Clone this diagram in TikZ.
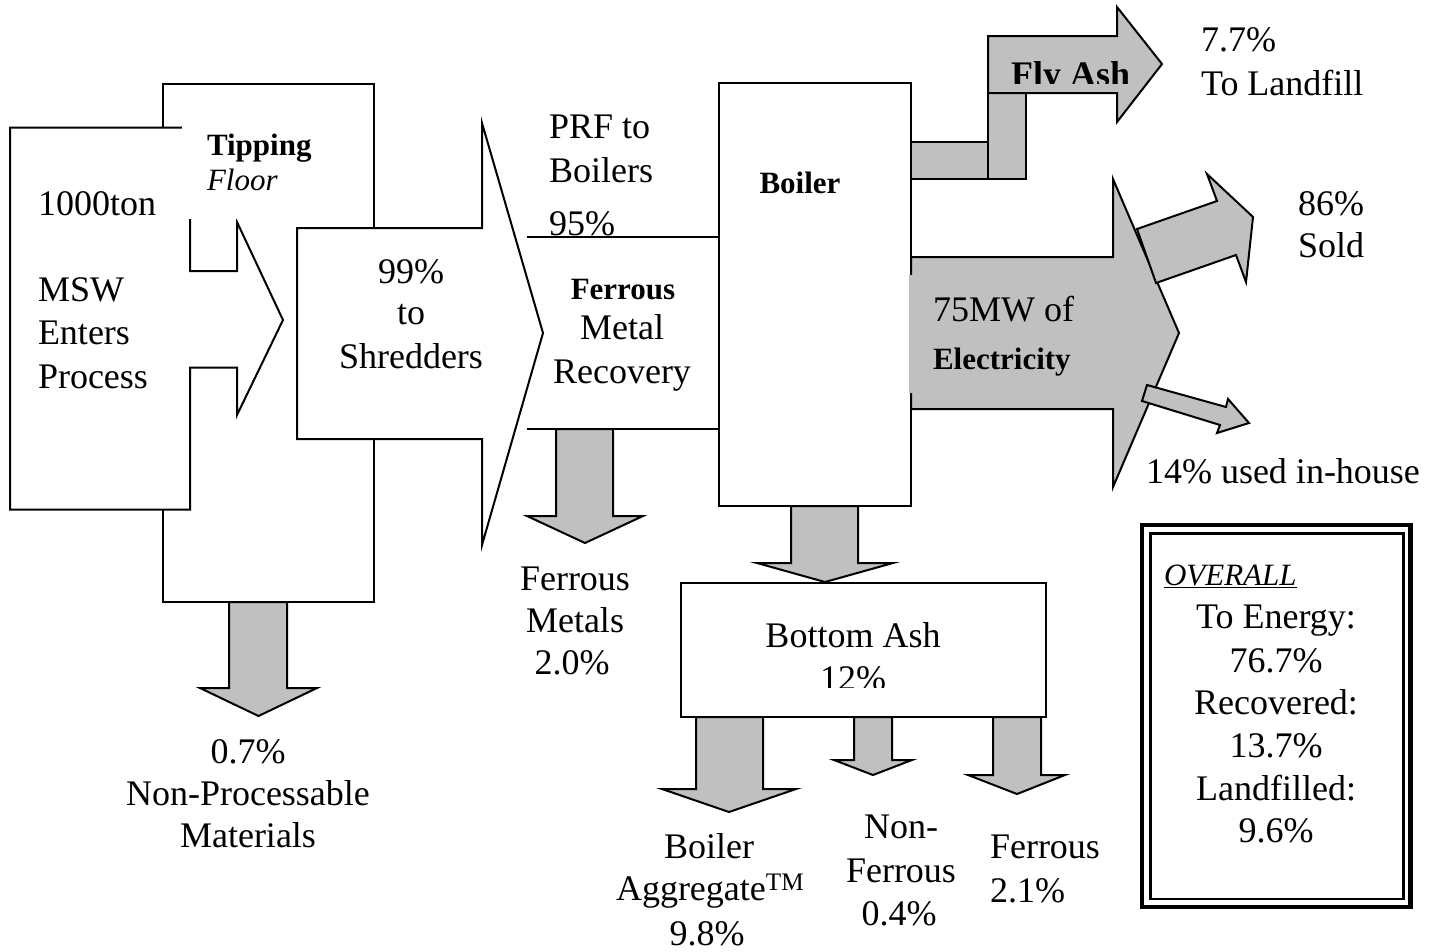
\documentclass[tikz,border=0pt]{standalone}
\usepackage{fontspec}
\setmainfont{Liberation Serif}
\definecolor{ash}{HTML}{C0C0C0}
\begin{document}
\begin{tikzpicture}[x=1pt,y=-1pt,line width=2pt,line join=miter,
  wbox/.style={draw=black,fill=white},
  gbox/.style={draw=black,fill=ash},
  txt/.style={inner sep=0pt,font=\fontsize{36}{43}\selectfont},
  btxt/.style={inner sep=0pt,font=\fontsize{31}{37}\selectfont\bfseries},
  itxt/.style={inner sep=0pt,font=\fontsize{31}{37}\selectfont\itshape},
  bw/.style={anchor=base west},
  bc/.style={anchor=base}]
\useasboundingbox (0,0) rectangle (1447,951);

% ---- Tipping floor ----
\draw[wbox] (163,83.5) rectangle (374,602);
\draw[wbox] (10,127.5) -- (190,127.5) -- (190,271) -- (237,271) -- (237,222) -- (283,320)
  -- (237,415) -- (237,367.5) -- (190,367.5) -- (190,509.5) -- (10,509.5) -- cycle;
\fill[white] (182,100) rectangle (330,219);
\node[btxt,bw] (tip) at (206,155) {Tipping};
\node[itxt,bw] (floor) at (206,190) {Floor};
\node[txt,bw] (ton) at (37,215) {1000ton};
\node[txt,bw] (msw) at (37,301.5) {MSW};
\node[txt,bw] (ent) at (37,344) {Enters};
\node[txt,bw] (proc) at (37,388) {Process};

% non-processable
\draw[gbox] (229,602) -- (287,602) -- (287,688) -- (317,688) -- (258.5,716) -- (200,688) -- (229,688) -- cycle;
\node[txt,bc] (np1) at (248,763) {0.7\%};
\node[txt,bc] (np2) at (248,805) {Non-Processable};
\node[txt,bc] (np3) at (248,847) {Materials};

% ---- Shredders ----
\draw[wbox] (297,228) -- (482,228) -- (482,123) -- (543,333) -- (482,545) -- (482,439) -- (297,439) -- cycle;
\node[txt,bc] (s1) at (411,283) {99\%};
\node[txt,bc] (s2) at (411,324) {to};
\node[txt,bc] (s3) at (411,368) {Shredders};

% ---- Ferrous metal recovery ----
\draw (527,237) -- (719,237);
\draw (527,429) -- (719,429);
\node[txt,bw] (prf1) at (548,138) {PRF to};
\node[txt,bw] (prf2) at (548,182) {Boilers};
\node[txt,bw] (prf3) at (548,235) {95\%};
\node[btxt,bc] (fe1) at (623,299) {Ferrous};
\node[txt,bc] (fe2) at (622,339) {Metal};
\node[txt,bc] (fe3) at (622,383) {Recovery};
\draw[gbox] (556,429) -- (613,429) -- (613,516) -- (643,516) -- (585,543) -- (527,516) -- (556,516) -- cycle;
\node[txt,bc] (fm1) at (575,590) {Ferrous};
\node[txt,bc] (fm2) at (575,632) {Metals};
\node[txt,bc] (fm3) at (572,674) {2.0\%};

% ---- Boiler ----
\draw[wbox] (719,83) rectangle (911,506);
\node[btxt,bc] (boil) at (800,193) {Boiler};

% fly ash
\draw[gbox] (911,142) rectangle (988,179);
\draw[gbox] (988,93) rectangle (1026,179);
\draw[gbox] (988,36) -- (1117,36) -- (1117,7) -- (1162,64) -- (1117,122) -- (1117,93) -- (988,93) -- cycle;
\begin{scope}
\clip (990,30) rectangle (1150,83);
\node[inner sep=0pt,font=\fontsize{36}{43}\selectfont\bfseries,bw] (fly) at (1010,86) {Fly Ash};
\end{scope}
\node[txt,bw] (lf1) at (1200,51) {7.7\%};
\node[txt,bw] (lf2) at (1200,95) {To Landfill};

% electricity
\draw[gbox] (911,257) -- (1113,257) -- (1113,179) -- (1179,333) -- (1113,487) -- (1113,409) -- (911,409) -- cycle;
\fill[ash] (909,275) rectangle (1090,393);
\node[txt,bw] (mw) at (932,321) {75MW of};
\node[btxt,bw] (elec) at (932,369) {Electricity};
\draw[gbox] (1137,229) -- (1217,201) -- (1207,174) -- (1253,217) -- (1246,282) -- (1236,255) -- (1156,283) -- cycle;
\draw[gbox] (1147,385) -- (1226,407) -- (1228,399) -- (1249,423) -- (1217,433) -- (1220,425) -- (1142,401) -- cycle;
\node[txt,bw] (sold1) at (1297,215) {86\%};
\node[txt,bw] (sold2) at (1297,257) {Sold};
\node[txt,bw] (inh) at (1145,483) {14\% used in-house};

% ---- Bottom ash ----
\draw[gbox] (791,506) -- (858,506) -- (858,563) -- (893,563) -- (825,582) -- (757,563) -- (791,563) -- cycle;
\draw[wbox] (681,583) rectangle (1046,717);
\node[txt,bc] (ba1) at (853,647) {Bottom Ash};
\begin{scope}
\clip (683,585) rectangle (1044,687);
\node[txt,bc] (ba2) at (853,690) {12\%};
\end{scope}
\draw[gbox] (696,717) -- (763,717) -- (763,789) -- (796,789) -- (729,812) -- (662,789) -- (696,789) -- cycle;
\draw[gbox] (854,717) -- (892,717) -- (892,760) -- (912,760) -- (873,775) -- (834,760) -- (854,760) -- cycle;
\draw[gbox] (993,717) -- (1041,717) -- (1041,775) -- (1065,775) -- (1017,794) -- (968,775) -- (993,775) -- cycle;
\node[txt,bc] (ag1) at (709,858) {Boiler};
\node[txt,bw] (ag2) at (615,900) {Aggregate\textsuperscript{TM}};
\node[txt,bc] (ag3) at (707,945) {9.8\%};
\node[txt,bc] (nf1) at (901,838) {Non-};
\node[txt,bc] (nf2) at (901,882) {Ferrous};
\node[txt,bc] (nf3) at (899,925) {0.4\%};
\node[txt,bw] (ff1) at (989,858) {Ferrous};
\node[txt,bw] (ff2) at (989,902) {2.1\%};

% ---- Overall ----
\draw[line width=4.5pt] (1142,525) rectangle (1410.5,907);
\draw[line width=2.5pt] (1150.5,533.5) rectangle (1403.5,899);
\node[itxt,bw] (ov) at (1163,585) {\underline{OVERALL}};
\node[txt,bc] (o1) at (1276,628) {To Energy:};
\node[txt,bc] (o2) at (1276,672) {76.7\%};
\node[txt,bc] (o3) at (1276,714) {Recovered:};
\node[txt,bc] (o4) at (1276,757) {13.7\%};
\node[txt,bc] (o5) at (1276,800) {Landfilled:};
\node[txt,bc] (o6) at (1276,842) {9.6\%};
\end{tikzpicture}
\end{document}
